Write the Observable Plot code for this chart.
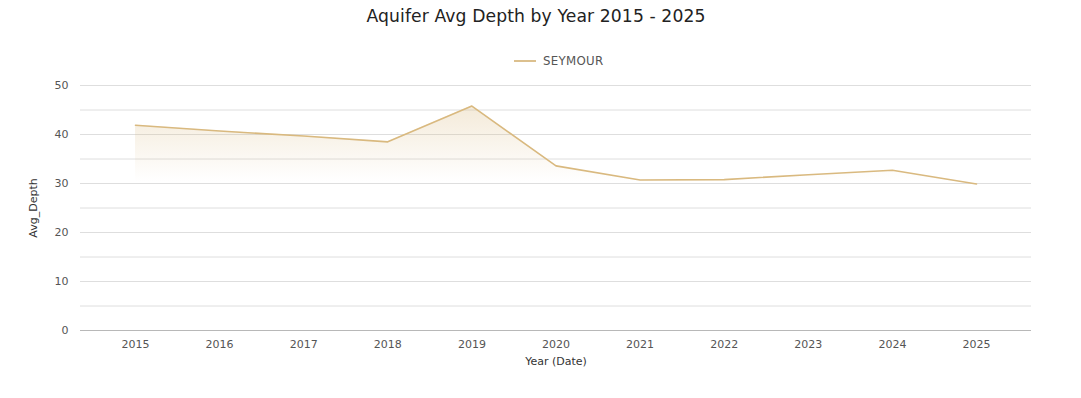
<!DOCTYPE html>
<html><head><meta charset="utf-8">
<script src="https://cdn.jsdelivr.net/npm/d3@7"></script>
<script src="https://cdn.jsdelivr.net/npm/@observablehq/plot@0.6"></script>
<style>
body{margin:0;background:#fff;font-family:"DejaVu Sans",sans-serif;}
#title{position:absolute;top:6px;left:0;width:1072px;text-align:center;font-size:17.2px;color:#222;letter-spacing:0.1px;}
#legend{position:absolute;top:54px;left:514px;font-size:11.8px;color:#555;display:flex;align-items:center;letter-spacing:0.3px;}
#legend span.sw{display:inline-block;width:22px;height:2px;background:#dcc08e;margin-right:7px;}
#chart{position:absolute;top:75px;left:0;}
</style></head>
<body>
<div id="title">Aquifer Avg Depth by Year 2015 - 2025</div>
<div id="legend"><span class="sw"></span>SEYMOUR</div>
<div id="chart"></div>
<script>
const years = [2015,2016,2017,2018,2019,2020,2021,2022,2023,2024,2025];
const depths = [41.9,40.7,39.7,38.5,45.8,33.6,30.7,30.8,31.8,32.7,29.9];
const series = "SEYMOUR";
const data = years.map((y,i)=>({year:y, depth:depths[i], aquifer:series}));
const lineColor = "#d9b97f";

const chart = Plot.plot({
  width:1081, height:323,
  marginLeft:80, marginRight:50, marginTop:10, marginBottom:68,
  style:{fontFamily:"DejaVu Sans, sans-serif", fontSize:"11px", color:"#555", background:"transparent"},
  x:{domain:[2015-0.654,2025+0.654], ticks:years, tickFormat:d=>String(d), tickSize:0, tickPadding:10, label:"Year (Date)", labelAnchor:"center", labelOffset:34},
  y:{domain:[0,50], ticks:[0,10,20,30,40,50], tickSize:0, tickPadding:12, label:"Avg_Depth", labelAnchor:"center", labelArrow:"none", labelOffset:51},
  marks:[
    Plot.ruleY(d3.range(5,55,5), {stroke:"#dedede", strokeWidth:1}),
    Plot.areaY(data,{x:"year", y:"depth", fill:"url(#fadeGrad)", curve:"linear"}),
    Plot.ruleY([0], {stroke:"#b8b8b8", strokeWidth:1}),
    Plot.lineY(data,{x:"year", y:"depth", stroke:lineColor, strokeWidth:1.6})
  ]
});
const svg = d3.select(chart);
const defs = svg.insert("defs", ":first-child");
const g = defs.append("linearGradient").attr("id","fadeGrad").attr("x1",0).attr("y1",0).attr("x2",0).attr("y2",1);
g.append("stop").attr("offset","0").attr("stop-color",lineColor).attr("stop-opacity",0.3);
g.append("stop").attr("offset","0.34").attr("stop-color",lineColor).attr("stop-opacity",0);
svg.selectAll("[aria-label='x-axis label'] text, [aria-label='y-axis label'] text").attr("fill","#333");
svg.selectAll("[aria-label='y-axis label'] text").text("Avg_Depth");
svg.selectAll("[aria-label='x-axis label'] text").text("Year (Date)");
document.getElementById("chart").appendChild(chart);
</script>
</body></html>
